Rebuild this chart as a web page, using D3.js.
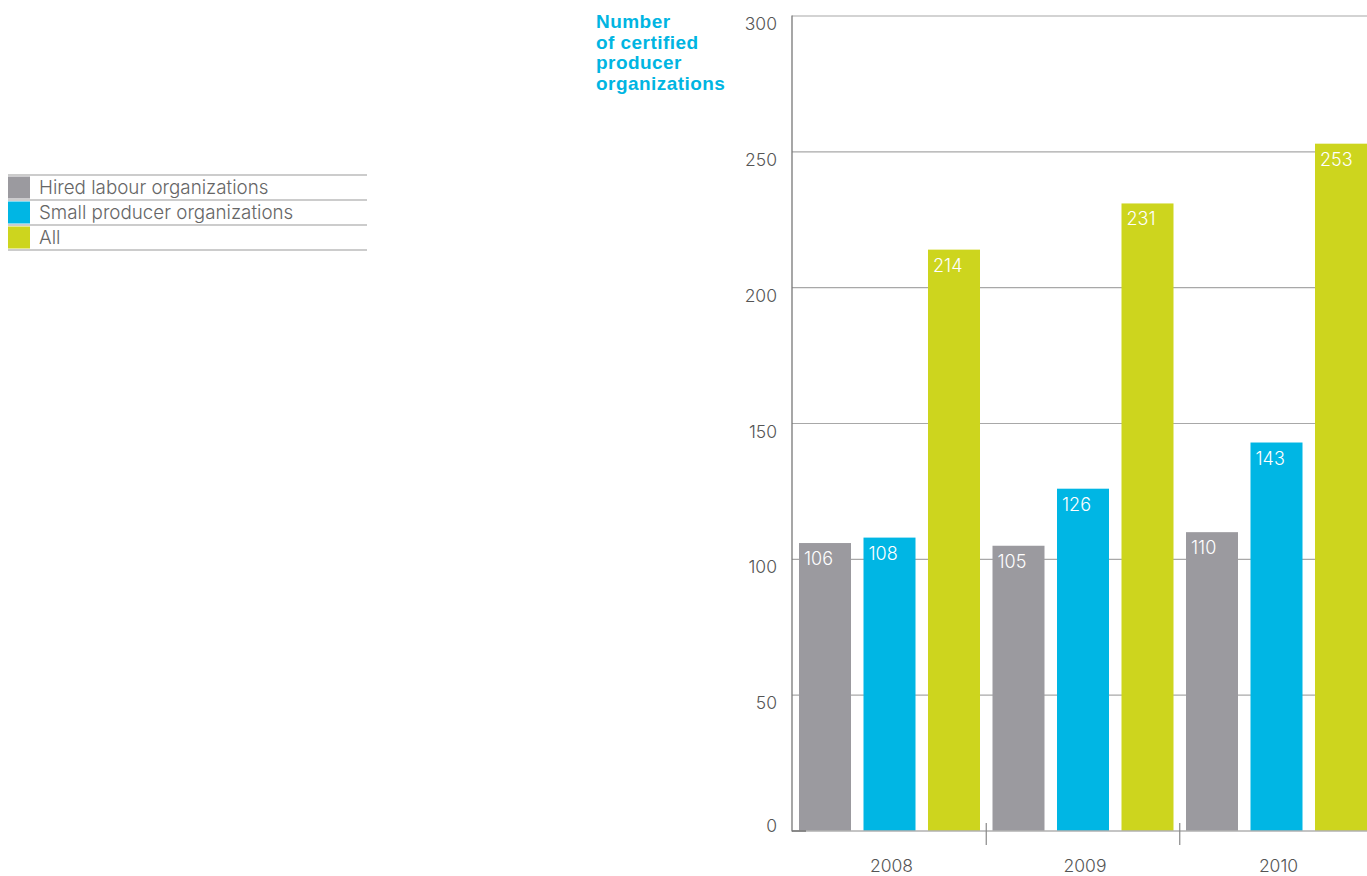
<!DOCTYPE html>
<html>
<head>
<meta charset="utf-8">
<script src="https://cdn.jsdelivr.net/npm/d3@7"></script>
<style>
  html, body { margin: 0; padding: 0; background: #fff; }
  svg { display: block; }
  .light { font-family: Inter, "Liberation Sans", sans-serif; font-weight: 300; }
</style>
</head>
<body>
<svg id="chart" width="1367" height="876"></svg>
<script>
// Certified producer organizations per year
const years = ["2008", "2009", "2010"];
const seriesNames = ["Hired labour organizations", "Small producer organizations", "All"];
const hiredLabour = [106, 105, 110];
const smallProducer = [108, 126, 143];
const allOrgs = [214, 231, 253];
const yTicks = [0, 50, 100, 150, 200, 250, 300];
const titleLines = ["Number", "of certified", "producer", "organizations"];
const colors = ["#9b9a9f", "#00b6e4", "#cdd51e"];

const seriesValues = [hiredLabour, smallProducer, allOrgs];
const rows = years.map((yr, i) => ({
  year: yr,
  values: seriesNames.map((s, k) => ({ key: k, name: s, value: seriesValues[k][i] }))
}));

const svg = d3.select("#chart");

const plotLeft = 792, plotRight = 1367, plotTop = 16, plotBottom = 831;

const y = d3.scaleLinear().domain([0, 300]).range([plotBottom, plotTop]);
const x0 = d3.scaleBand().domain(years).range([792.75, 1373.25]).paddingInner(0).paddingOuter(0);
const x1 = d3.scaleBand().domain(d3.range(seriesNames.length)).range([0, x0.bandwidth()])
  .paddingInner(12.5 / 64.5).paddingOuter(6.25 / 64.5);

// Horizontal gridlines
svg.append("g").selectAll("line").data(yTicks.filter(t => t > 0)).join("line")
  .attr("x1", plotLeft).attr("x2", plotRight)
  .attr("y1", d => y(d)).attr("y2", d => y(d))
  .attr("stroke", "#a8a8a8").attr("stroke-width", 1.2);

// Y tick labels sit just under their gridline; zero sits on the baseline
svg.append("g").selectAll("text").data(yTicks).join("text")
  .attr("class", "light")
  .attr("x", 777).attr("y", d => d === 0 ? y(d) + 1 : y(d) + 14)
  .attr("text-anchor", "end")
  .attr("font-size", 17.5).attr("fill", "#555")
  .text(d => d);

// Bars
const groups = svg.append("g").selectAll("g").data(rows).join("g")
  .attr("transform", d => `translate(${x0(d.year)},0)`);

groups.selectAll("rect").data(d => d.values).join("rect")
  .attr("x", d => x1(d.key)).attr("width", x1.bandwidth())
  .attr("y", d => y(d.value)).attr("height", d => y(0) - y(d.value))
  .attr("fill", d => colors[d.key]);

groups.selectAll("text").data(d => d.values).join("text")
  .attr("class", "light")
  .attr("x", d => x1(d.key) + 5).attr("y", d => y(d.value) + 22)
  .attr("font-size", 18).attr("fill", "#fff")
  .text(d => d.value);

// Baseline and left axis
svg.append("line").attr("x1", plotLeft).attr("x2", plotRight)
  .attr("y1", plotBottom).attr("y2", plotBottom)
  .attr("stroke", "#b0b0b0").attr("stroke-width", 1.5);
svg.append("line").attr("x1", plotLeft).attr("x2", plotLeft + 14)
  .attr("y1", plotBottom).attr("y2", plotBottom)
  .attr("stroke", "#777").attr("stroke-width", 1.5);
svg.append("line").attr("x1", plotLeft).attr("x2", plotLeft)
  .attr("y1", plotTop - 0.5).attr("y2", plotBottom + 0.5)
  .attr("stroke", "#777").attr("stroke-width", 1.3);

// Group separators below the baseline
svg.append("g").selectAll("line").data(years.slice(1)).join("line")
  .attr("x1", d => x0(d)).attr("x2", d => x0(d))
  .attr("y1", 823).attr("y2", 845)
  .attr("stroke", "#888").attr("stroke-width", 1.2);

// Year labels
svg.append("g").selectAll("text").data(years).join("text")
  .attr("class", "light")
  .attr("x", d => x0(d) + x0.bandwidth() / 2 + 2).attr("y", 872)
  .attr("text-anchor", "middle")
  .attr("font-size", 17.5).attr("fill", "#555")
  .text(d => d);

// Title
svg.append("text")
  .attr("font-family", "'Liberation Sans', Arial, sans-serif")
  .attr("font-weight", "bold").attr("font-size", 19).attr("fill", "#00b5e2")
  .attr("letter-spacing", 0.45)
  .selectAll("tspan").data(titleLines).join("tspan")
  .attr("x", 596).attr("y", (d, i) => 28 + i * 20.7)
  .text(d => d);

// Legend
const legend = svg.append("g");
const legendTop = 175, rowH = 25;
legend.selectAll("line").data(d3.range(seriesNames.length + 1)).join("line")
  .attr("x1", 8).attr("x2", 367)
  .attr("y1", i => legendTop + i * rowH).attr("y2", i => legendTop + i * rowH)
  .attr("stroke", "#999").attr("stroke-width", 1.2);
legend.selectAll("rect").data(seriesNames).join("rect")
  .attr("x", 8).attr("width", 22)
  .attr("y", (d, i) => legendTop + i * rowH + 1.5).attr("height", rowH - 3)
  .attr("fill", (d, i) => colors[i]);
legend.selectAll("text").data(seriesNames).join("text")
  .attr("class", "light")
  .attr("x", 39).attr("y", (d, i) => legendTop + i * rowH + 19)
  .attr("font-size", 18.8).attr("fill", "#666")
  .text(d => d);
</script>
</body>
</html>
